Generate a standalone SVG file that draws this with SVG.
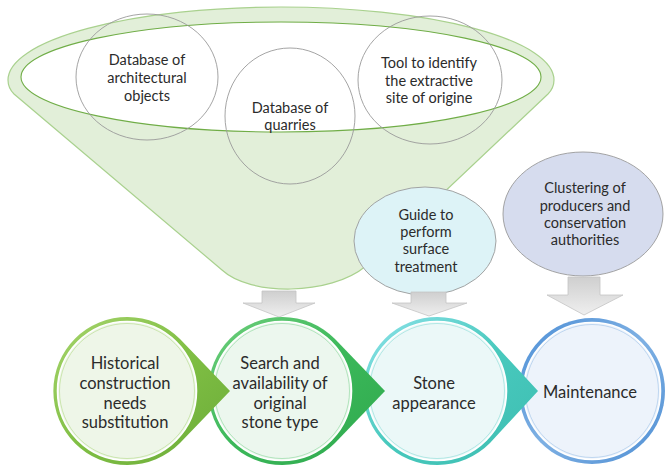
<svg xmlns="http://www.w3.org/2000/svg" width="665" height="467" viewBox="0 0 665 467">
  <defs>
    <style>
      .lbl { font-family: Lato, "Open Sans", "Liberation Sans", sans-serif; font-size: 14.5px; fill: #2b2b2b; text-anchor: middle; }
      .big { font-family: Lato, "Open Sans", "Liberation Sans", sans-serif; font-size: 16.5px; fill: #2b2b2b; text-anchor: middle; }
      .ring { fill: none; stroke: #9a9a9a; stroke-width: 0.9; }
      .inner { stroke: #ffffff; stroke-width: 1.6; }
      .arrow { fill: url(#gArrow); stroke: #c4c4c4; stroke-width: 0.8; }
    </style>
    <linearGradient id="gArrow" x1="0" y1="0" x2="0" y2="1">
      <stop offset="0" stop-color="#cfcfcf"/>
      <stop offset="1" stop-color="#efefef"/>
    </linearGradient>
    <linearGradient id="gA" x1="0" y1="0" x2="1" y2="1">
      <stop offset="0" stop-color="#a6d46c"/>
      <stop offset="0.5" stop-color="#80bf44"/>
      <stop offset="1" stop-color="#6aab38"/>
    </linearGradient>
    <linearGradient id="gB" x1="0" y1="0" x2="1" y2="1">
      <stop offset="0" stop-color="#6fcf7c"/>
      <stop offset="0.5" stop-color="#3bb85a"/>
      <stop offset="1" stop-color="#2ea84c"/>
    </linearGradient>
    <linearGradient id="gC" x1="0" y1="0" x2="1" y2="1">
      <stop offset="0" stop-color="#8ee3ea"/>
      <stop offset="0.5" stop-color="#48c9bd"/>
      <stop offset="1" stop-color="#3dbdb1"/>
    </linearGradient>
    <linearGradient id="gD" x1="0" y1="0" x2="1" y2="1">
      <stop offset="0" stop-color="#4d8fd6"/>
      <stop offset="0.5" stop-color="#7eb0e3"/>
      <stop offset="1" stop-color="#4f8fd4"/>
    </linearGradient>
  </defs>

  <!-- funnel with the three source databases -->
  <g id="funnel">
    <path d="M 8,80 A 273 73 0 0 1 554,80 C 554,86 552,90 548,94 L 366,266 C 330,296 250,296 222,270 L 14,94 C 10,90 8,86 8,80 Z" fill="#e2efd9" stroke="#a9d18e" stroke-width="1.2"/>
    <ellipse cx="281" cy="77" rx="260" ry="55" fill="#ffffff" stroke="#70ad47" stroke-width="1.1"/>
  </g>

  <g id="db-architectural">
    <ellipse class="ring" cx="147" cy="77" rx="71" ry="63"/>
    <text class="lbl" x="147" y="65">Database of</text>
    <text class="lbl" x="147" y="83">architectural</text>
    <text class="lbl" x="147" y="101">objects</text>
  </g>

  <g id="db-quarries">
    <ellipse class="ring" cx="290" cy="116" rx="65" ry="68"/>
    <text class="lbl" x="290" y="113">Database of</text>
    <text class="lbl" x="290" y="130">quarries</text>
  </g>

  <g id="tool-origin">
    <ellipse class="ring" cx="430" cy="80" rx="72" ry="64"/>
    <text class="lbl" x="429" y="68">Tool to identify</text>
    <text class="lbl" x="429" y="86">the extractive</text>
    <text class="lbl" x="429" y="103">site of origine</text>
  </g>

  <g id="guide">
    <ellipse cx="425" cy="241" rx="71" ry="54" fill="#ddf3f7" stroke="#9a9a9a" stroke-width="0.9"/>
    <text class="lbl" x="426" y="220">Guide to</text>
    <text class="lbl" x="426" y="237">perform</text>
    <text class="lbl" x="426" y="254">surface</text>
    <text class="lbl" x="426" y="272">treatment</text>
  </g>

  <g id="clustering">
    <ellipse cx="583" cy="214" rx="80" ry="62" fill="#d6dcee" stroke="#9a9a9a" stroke-width="0.9"/>
    <text class="lbl" x="585" y="193">Clustering of</text>
    <text class="lbl" x="585" y="211">producers and</text>
    <text class="lbl" x="585" y="228">conservation</text>
    <text class="lbl" x="585" y="245">authorities</text>
  </g>

  <!-- block arrows feeding the process steps -->
  <g id="connectors">
    <path class="arrow" d="M 262,291 H 296 V 303 H 315 L 279,317 L 243,303 H 262 Z"/>
    <path class="arrow" d="M 411,292 H 446 V 303 H 467 L 429,316 L 392,303 H 411 Z"/>
    <path class="arrow" d="M 568,277 H 600 V 295 H 623 L 584,315 L 547,295 H 568 Z"/>
  </g>

  <!-- process steps, drawn right to left so each pointer sits on the next step -->
  <g id="step-maintenance">
    <circle cx="592" cy="391" r="73" fill="url(#gD)"/>
    <circle class="inner" cx="592" cy="391" r="68.5" fill="#edf3fb"/>
    <circle cx="592" cy="391" r="66.5" fill="none" stroke="#7eaee0" stroke-width="0.7" opacity="0.6"/>
    <text class="big" x="590" y="398">Maintenance</text>
  </g>

  <g id="step-appearance">
    <path d="M 538,391 L 490,339 A 74 74 0 1 0 490,443 Z" fill="url(#gC)"/>
    <circle class="inner" cx="437" cy="391" r="69.5" fill="#ebf8f8"/>
    <circle cx="437" cy="391" r="67.5" fill="none" stroke="#5fd0c8" stroke-width="0.7" opacity="0.6"/>
    <text class="big" x="434" y="389">Stone</text>
    <text class="big" x="434" y="409">appearance</text>
  </g>

  <g id="step-search">
    <path d="M 385,391 L 335,339 A 74 74 0 1 0 335,443 Z" fill="url(#gB)"/>
    <circle class="inner" cx="282" cy="391" r="69.5" fill="#ecf7ee"/>
    <circle cx="282" cy="391" r="67.5" fill="none" stroke="#5cc874" stroke-width="0.7" opacity="0.6"/>
    <text class="big" x="280" y="369">Search and</text>
    <text class="big" x="280" y="389">availability of</text>
    <text class="big" x="280" y="409">original</text>
    <text class="big" x="280" y="428">stone type</text>
  </g>

  <g id="step-historical">
    <path d="M 230,391 L 180,339 A 74 74 0 1 0 180,443 Z" fill="url(#gA)"/>
    <circle class="inner" cx="127" cy="391" r="69.5" fill="#eef6e8"/>
    <circle cx="127" cy="391" r="67.5" fill="none" stroke="#98cc5c" stroke-width="0.7" opacity="0.6"/>
    <text class="big" x="125" y="369">Historical</text>
    <text class="big" x="125" y="389">construction</text>
    <text class="big" x="125" y="409">needs</text>
    <text class="big" x="125" y="428">substitution</text>
  </g>
</svg>
